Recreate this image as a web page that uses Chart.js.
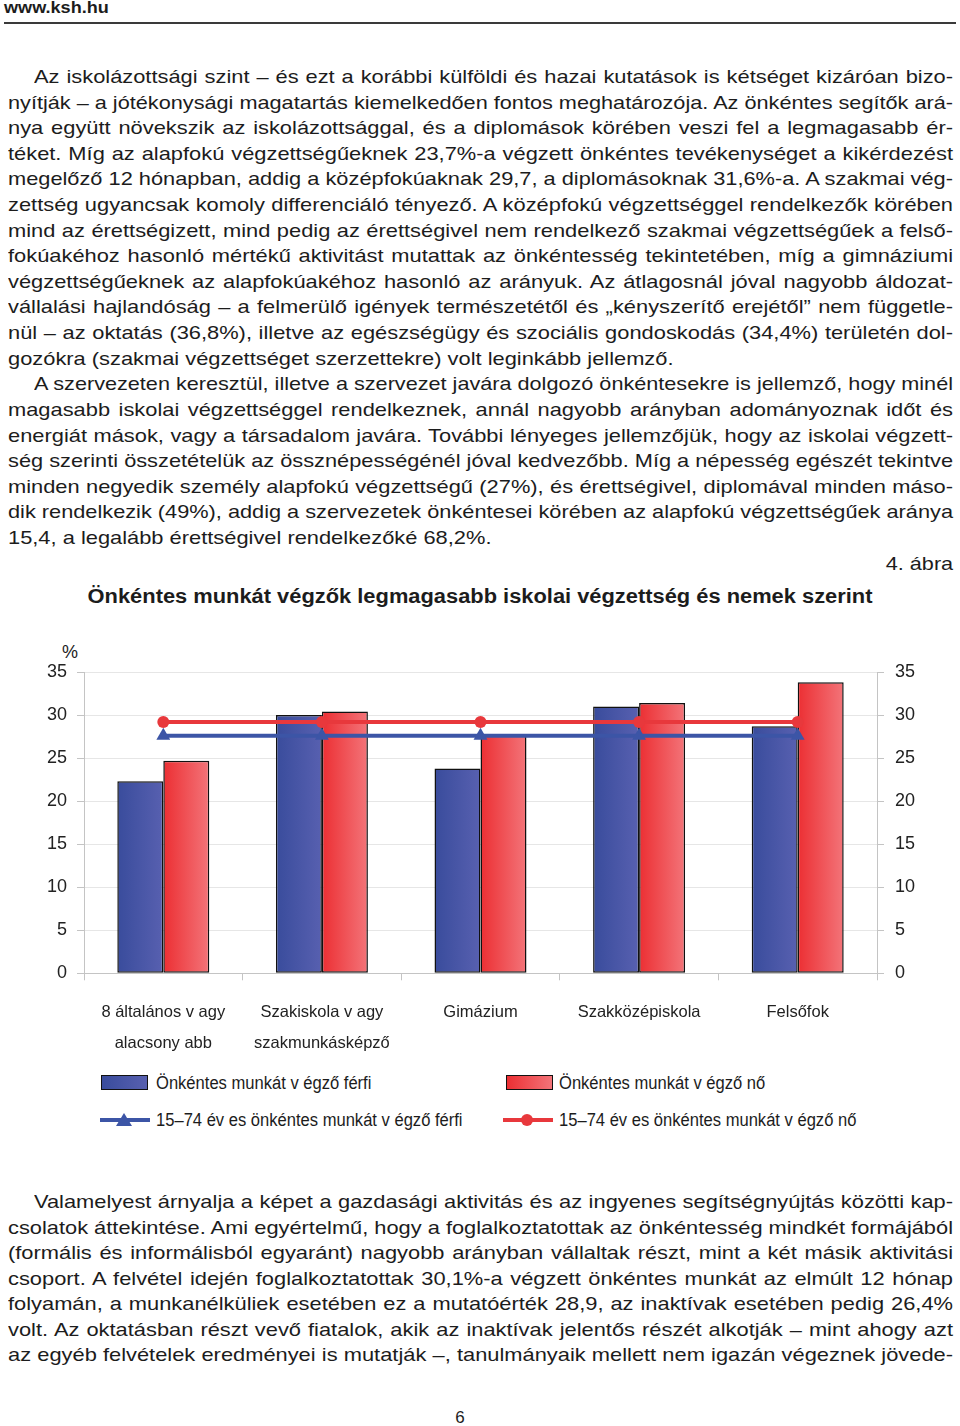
<!DOCTYPE html>
<html lang="hu">
<head>
<meta charset="utf-8">
<title>Önkéntes munkát végzők</title>
<script src="https://cdn.jsdelivr.net/npm/chart.js@4.4.1/dist/chart.umd.min.js"></script>
<style>
body{margin:0;width:960px;height:1426px;position:relative;background:#fff;font-family:"Liberation Sans",Arial,sans-serif;color:#1c1c1c;overflow:hidden}
.hdr{position:absolute;left:4px;top:-2px;font-weight:bold;font-size:16px;line-height:20px;transform:scaleX(1.13);transform-origin:0 0}
.rule{position:absolute;left:4px;top:22px;width:952px;height:2px;background:#3a3a3a}
.ln{position:absolute;font-size:19px;line-height:26px;white-space:nowrap;text-align:justify;text-align-last:justify;transform-origin:0 0}
.ln.last{text-align-last:left}
.meas{position:absolute;left:0;top:0;visibility:hidden;font-size:19px;white-space:nowrap}
.abra{position:absolute;right:7px;top:551px;font-size:19px;line-height:26px;transform:scaleX(1.14);transform-origin:100% 0}
.ttl{position:absolute;left:0;width:961px;top:583px;text-align:center;font-weight:bold;font-size:20px;line-height:26px}
.ttl span{display:inline-block;transform:scaleX(1.093)}
#wrap{position:absolute;left:0;top:630px;width:960px;height:430px}
.pct{position:absolute;left:62px;top:641px;font-size:18px;line-height:22px}
.lg{position:absolute;font-size:18px;line-height:22px;white-space:nowrap;transform:scaleX(0.92);transform-origin:0 0}
.sw{position:absolute;width:45px;height:13px;border:1.5px solid #111}
.pg{position:absolute;left:0;width:920px;text-align:center;top:1407px;font-size:17px;line-height:22px}
</style>
</head>
<body>
<div class="hdr">www.ksh.hu</div>
<div class="rule"></div>
<div id="text"></div>
<span class="meas" id="meas"></span>
<div class="abra">4. ábra</div>
<div class="ttl"><span>Önkéntes munkát végzők legmagasabb iskolai végzettség és nemek szerint</span></div>
<div class="pct">%</div>
<div id="wrap"><canvas id="chart" width="960" height="430"></canvas></div>
<div id="legend"></div>
<div class="pg">6</div>
<script>
// chart data
var categories = [["8 általános v agy", "alacsony abb"], ["Szakiskola v agy", "szakmunkásképző"], ["Gimázium"], ["Szakközépiskola"], ["Felsőfok"]];
var seriesNames = ["Önkéntes munkát v égző férfi", "Önkéntes munkát v égző nő", "15–74 év es önkéntes munkát v égző férfi", "15–74 év es önkéntes munkát v égző nő"];
var maleVolunteers = [22.3, 30.0, 23.8, 31.0, 28.7];
var femaleVolunteers = [24.7, 30.4, 27.8, 31.4, 33.8];
var male1574 = [27.6, 27.6, 27.6, 27.6, 27.6];
var female1574 = [29.2, 29.2, 29.2, 29.2, 29.2];
var yTicks = [0, 5, 10, 15, 20, 25, 30, 35];

var blue0 = "#394c9c", blue1 = "#5860b0";
var red0 = "#ec2f33", red1 = "#f37479";
var blueLine = "#3c55a6", redLine = "#e8383c";
var chartFont = '"Liberation Sans",Arial,sans-serif';
var catPct = 0.58;

// page text, line by line
var para1 = [
 "Az iskolázottsági szint – és ezt a korábbi külföldi és hazai kutatások is kétséget kizáróan bizo-",
 "nyítják – a jótékonysági magatartás kiemelkedően fontos meghatározója. Az önkéntes segítők ará-",
 "nya együtt növekszik az iskolázottsággal, és a diplomások körében veszi fel a legmagasabb ér-",
 "téket. Míg az alapfokú végzettségűeknek 23,7%-a végzett önkéntes tevékenységet a kikérdezést",
 "megelőző 12 hónapban, addig a középfokúaknak 29,7, a diplomásoknak 31,6%-a. A szakmai vég-",
 "zettség ugyancsak komoly differenciáló tényező. A középfokú végzettséggel rendelkezők körében",
 "mind az érettségizett, mind pedig az érettségivel nem rendelkező szakmai végzettségűek a felső-",
 "fokúakéhoz hasonló mértékű aktivitást mutattak az önkéntesség tekintetében, míg a gimnáziumi",
 "végzettségűeknek  az alapfokúakéhoz hasonló az arányuk. Az átlagosnál jóval nagyobb áldozat-",
 "vállalási hajlandóság – a felmerülő igények természetétől és „kényszerítő erejétől” nem függetle-",
 "nül – az oktatás (36,8%), illetve az egészségügy és szociális gondoskodás (34,4%) területén dol-",
 "gozókra (szakmai végzettséget szerzettekre) volt leginkább jellemző.",
 "A szervezeten keresztül, illetve a szervezet javára dolgozó önkéntesekre is jellemző, hogy minél",
 "magasabb iskolai végzettséggel rendelkeznek, annál nagyobb arányban adományoznak időt és",
 "energiát mások, vagy a társadalom javára. További lényeges jellemzőjük, hogy az iskolai végzett-",
 "ség szerinti összetételük az össznépességénél jóval kedvezőbb. Míg a népesség egészét tekintve",
 "minden negyedik személy alapfokú végzettségű (27%), és érettségivel, diplomával minden máso-",
 "dik rendelkezik (49%), addig a szervezetek önkéntesei körében az alapfokú végzettségűek aránya",
 "15,4, a legalább érettségivel rendelkezőké 68,2%."
];
var para2 = [
 "Valamelyest árnyalja a képet a gazdasági aktivitás és az ingyenes segítségnyújtás közötti kap-",
 "csolatok áttekintése. Ami egyértelmű, hogy a foglalkoztatottak az önkéntesség mindkét formájából",
 "(formális és informálisból egyaránt) nagyobb arányban vállaltak részt, mint a két másik aktivitási",
 "csoport. A felvétel idején foglalkoztatottak 30,1%-a végzett önkéntes munkát az elmúlt 12 hónap",
 "folyamán, a munkanélküliek esetében ez a mutatóérték 28,9, az inaktívak esetében pedig 26,4%",
 "volt. Az oktatásban részt vevő fiatalok, akik az inaktívak jelentős részét alkotják – mint ahogy azt",
 "az egyéb felvételek eredményei is mutatják –, tanulmányaik mellett nem igazán végeznek jövede-"
];

var textScale = 1.15;
function addLines(lines, y0, step, indents, lasts){
    var box = document.getElementById("text");
    var meas = document.getElementById("meas");
    for(var i=0;i<lines.length;i++){
        var left = indents.indexOf(i)>=0 ? 34 : 8;
        var target = 953 - left;
        var d = document.createElement("div");
        d.className = "ln" + (lasts.indexOf(i)>=0 ? " last" : "");
        d.textContent = lines[i];
        meas.textContent = lines[i];
        var natural = meas.getBoundingClientRect().width;
        var s = textScale;
        if(natural * s > target){ s = target / natural; }
        d.style.left = left + "px";
        d.style.top = (y0 + step*i - 13) + "px";
        d.style.width = (target / s) + "px";
        d.style.transform = "scaleX(" + s + ")";
        box.appendChild(d);
    }
}
addLines(para1, 77, 25.61, [0, 12], [11, 18]);
addLines(para2, 1202, 25.5, [0], []);

function barGradient(c0, c1, side){
    return function(ctx){
        var chart = ctx.chart, xs = chart.scales.x;
        if(!chart.chartArea || !xs || ctx.dataIndex === undefined){return c0;}
        var center = xs.getPixelForValue(ctx.dataIndex);
        var w = (xs.width / categories.length) * catPct / 2;
        var x0 = side < 0 ? center - w : center;
        var g = chart.ctx.createLinearGradient(x0, 0, x0 + w, 0);
        g.addColorStop(0, c0);
        g.addColorStop(1, c1);
        return g;
    };
}

var tickFont = {family: chartFont, size: 18};

var chart = new Chart(document.getElementById("chart"), {
    type: "bar",
    data: {
        labels: categories,
        datasets: [
            {label: seriesNames[0], data: maleVolunteers, order: 2, backgroundColor: barGradient(blue0, blue1, -1),
             borderColor: "#111", borderWidth: 1.5, borderSkipped: false, categoryPercentage: catPct, barPercentage: 1},
            {label: seriesNames[1], data: femaleVolunteers, order: 3, backgroundColor: barGradient(red0, red1, 1),
             borderColor: "#111", borderWidth: 1.5, borderSkipped: false, categoryPercentage: catPct, barPercentage: 1},
            {type: "line", label: seriesNames[2], data: male1574, order: 1, borderColor: blueLine, backgroundColor: blueLine,
             borderWidth: 4, pointStyle: "triangle", pointRadius: 8, pointBorderWidth: 0, pointBackgroundColor: blueLine, tension: 0},
            {type: "line", label: seriesNames[3], data: female1574, order: 0, borderColor: redLine, backgroundColor: redLine,
             borderWidth: 4, pointStyle: "circle", pointRadius: 6, pointBorderWidth: 0, pointBackgroundColor: redLine, tension: 0}
        ]
    },
    options: {
        responsive: false,
        animation: false,
        devicePixelRatio: 1,
        layout: {padding: {top: 42, left: 0, right: 0, bottom: 0}},
        plugins: {legend: {display: false}, tooltip: {enabled: false}},
        scales: {
            x: {
                grid: {offset: true, drawOnChartArea: false, tickLength: 7, color: "#c4c4c4"},
                border: {color: "#c4c4c4"},
                ticks: {color: "#222", font: {family: chartFont, size: 16.5, lineHeight: 1.88}, padding: 17, maxRotation: 0, autoSkip: false},
                afterFit: function(s){ s.height = 86.7; }
            },
            y: {
                position: "left", min: 0, max: 35,
                afterBuildTicks: function(s){ s.ticks = yTicks.map(function(v){return {value: v};}); },
                grid: {color: "#e6e6e6", tickLength: 7, tickColor: "#c4c4c4"},
                border: {color: "#c4c4c4"},
                ticks: {color: "#222", font: tickFont, padding: 10},
                afterFit: function(s){ s.width = 84; }
            },
            y2: {
                position: "right", min: 0, max: 35,
                afterBuildTicks: function(s){ s.ticks = yTicks.map(function(v){return {value: v};}); },
                grid: {drawOnChartArea: false, tickLength: 7, color: "#c4c4c4"},
                border: {color: "#c4c4c4"},
                ticks: {color: "#222", font: tickFont, padding: 11},
                afterFit: function(s){ s.width = 83; }
            }
        }
    }
});

// legend below the chart
function buildLegend(){
    var lg = document.getElementById("legend");
    var items = [
        {kind: "bar", c0: blue0, c1: blue1, x: 101, y: 1083, text: seriesNames[0]},
        {kind: "bar", c0: red0, c1: red1, x: 506, y: 1083, text: seriesNames[1]},
        {kind: "line", color: blueLine, marker: "tri", x: 100, y: 1120, text: seriesNames[2]},
        {kind: "line", color: redLine, marker: "dot", x: 503, y: 1120, text: seriesNames[3]}
    ];
    items.forEach(function(it){
        if(it.kind === "bar"){
            var s = document.createElement("div");
            s.className = "sw";
            s.style.left = it.x + "px";
            s.style.top = (it.y - 8) + "px";
            s.style.background = "linear-gradient(to right," + it.c0 + "," + it.c1 + ")";
            lg.appendChild(s);
        } else {
            var mk = it.marker === "tri"
                ? '<polygon points="24,3 32,16 16,16" fill="' + it.color + '"/>'
                : '<circle cx="24" cy="10" r="6" fill="' + it.color + '"/>';
            var svg = '<svg width="50" height="20" style="position:absolute;left:' + it.x + 'px;top:' + (it.y - 10) + 'px">' +
                '<line x1="0" y1="10" x2="50" y2="10" stroke="' + it.color + '" stroke-width="4"/>' + mk + '</svg>';
            lg.insertAdjacentHTML("beforeend", svg);
        }
        var t = document.createElement("div");
        t.className = "lg";
        t.style.left = (it.x < 300 ? 156 : 559) + "px";
        t.style.top = (it.y - 11) + "px";
        t.textContent = it.text;
        lg.appendChild(t);
    });
}
buildLegend();
</script>
</body>
</html>
